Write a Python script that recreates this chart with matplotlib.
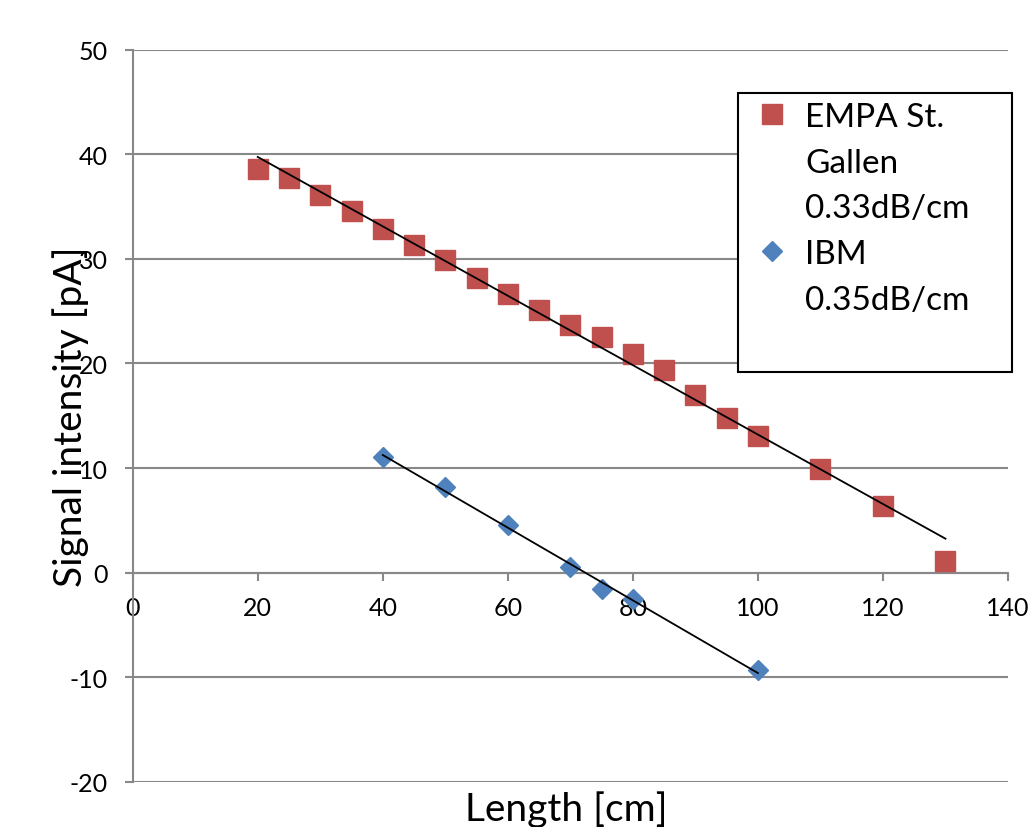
import matplotlib
matplotlib.use("Agg")
import matplotlib.pyplot as plt
import numpy as np
from matplotlib.lines import Line2D
from matplotlib.patches import Rectangle

plt.rcParams['font.family'] = ['Lato', 'DejaVu Sans']
plt.rcParams['axes.unicode_minus'] = False

# EMPA St. Gallen measurements
empa_len = [20, 25, 30, 35, 40, 45, 50, 55, 60, 65, 70, 75, 80, 85, 90, 95, 100, 110, 120, 130]
empa_sig = [38.6, 37.7, 36.1, 34.6, 32.9, 31.3, 29.9, 28.2, 26.6, 25.1, 23.65, 22.5,
            20.9, 19.4, 17.0, 14.8, 13.1, 9.9, 6.4, 1.1]

# IBM measurements
ibm_len = [40, 50, 60, 70, 75, 80, 100]
ibm_sig = [11.1, 8.2, 4.6, 0.5, -1.6, -2.5, -9.3]

red = '#C0504D'
blue = '#4F81BD'
gray = '#888888'

fig = plt.figure(figsize=(10.31, 8.28), dpi=100)
ax = fig.add_axes([0.1287, 0.0545, 0.849, 0.8843])

ax.plot(empa_len, empa_sig, linestyle='none', marker='s', markersize=14.5,
        color=red, markeredgecolor=red, zorder=3)
ax.plot(ibm_len, ibm_sig, linestyle='none', marker='D', markersize=9.8,
        color=blue, markeredgecolor=blue, zorder=3)

# linear trend lines
for xs, ys in [(empa_len, empa_sig), (ibm_len, ibm_sig)]:
    k, b = np.polyfit(xs, ys, 1)
    xx = np.array([min(xs), max(xs)])
    ax.plot(xx, k * xx + b, color='black', lw=1.3, zorder=4)

ax.set_xlim(0, 140)
ax.set_ylim(-20, 50)
ax.set_xticks(range(0, 141, 20))
ax.set_yticks(range(-20, 51, 10))
ax.yaxis.grid(True, color=gray, lw=1.5)
ax.set_axisbelow(True)

for s in ['top', 'right']:
    ax.spines[s].set_visible(False)
ax.spines['bottom'].set_position(('data', 0))
for s in ['bottom', 'left']:
    ax.spines[s].set_color(gray)
    ax.spines[s].set_linewidth(1.5)
ax.tick_params(axis='both', color=gray, width=1.5, length=6, direction='out',
               labelsize=18, pad=12)
ax.tick_params(axis='x', pad=11)

ax.set_xlabel('Length [cm]', fontsize=28)
ax.set_ylabel('Signal intensity [pA]', fontsize=28)
ax.xaxis.set_label_coords(0.495, -0.012)
ax.xaxis.label.set_va('top')
ax.yaxis.set_label_coords(-0.05, 0.5)

# legend
blank = Line2D([], [], linestyle='none')
handles = [
    Line2D([], [], linestyle='none', marker='s', markersize=14.5, color=red),
    blank, blank,
    Line2D([], [], linestyle='none', marker='D', markersize=9.8, color=blue),
    blank,
]
labels = ['EMPA St.', 'Gallen', '0.33dB/cm', 'IBM', '0.35dB/cm']
leg = fig.legend(handles, labels, loc='upper left',
                 bbox_to_anchor=(755 / 1031, 1 - 103 / 828),
                 frameon=False, fontsize=24, borderpad=0, handlelength=1.0,
                 handletextpad=0.5, labelspacing=0.47, borderaxespad=0)
leg.set_zorder(10)
fig.patches.append(Rectangle((738 / 1031, 1 - 373 / 828), 274 / 1031, 279 / 828,
                             transform=fig.transFigure, facecolor='white',
                             edgecolor='black', lw=1.5, zorder=8))

fig.savefig('out.png', dpi=100)
